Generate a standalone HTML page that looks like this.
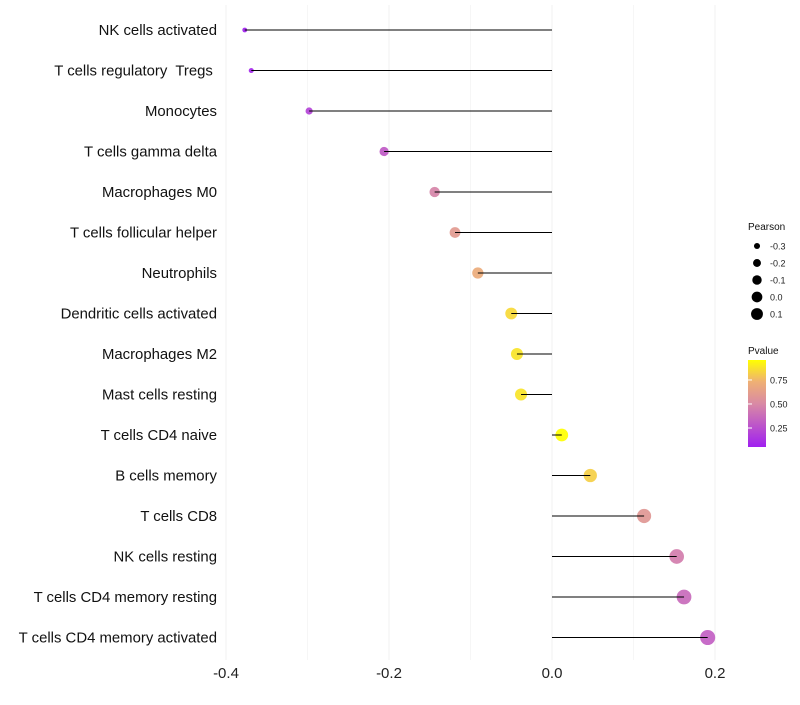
<!DOCTYPE html>
<html><head><meta charset="utf-8"><style>
body{margin:0;background:#fff;font-family:"Liberation Sans",sans-serif}
</style></head><body>
<svg id="c" width="800" height="700" xmlns="http://www.w3.org/2000/svg">
<defs><linearGradient id="pg" x1="0" y1="1" x2="0" y2="0">
<stop offset="0" stop-color="#A020F0"/><stop offset="0.5" stop-color="#D98AA4"/><stop offset="0.75" stop-color="#EFB074"/><stop offset="1" stop-color="#FFFF00"/></linearGradient></defs>
</svg>
<script>
const categories=["NK cells activated","T cells regulatory  Tregs ","Monocytes","T cells gamma delta","Macrophages M0","T cells follicular helper","Neutrophils","Dendritic cells activated","Macrophages M2","Mast cells resting","T cells CD4 naive","B cells memory","T cells CD8","NK cells resting","T cells CD4 memory resting","T cells CD4 memory activated"];
const pearson=[-0.377,-0.369,-0.298,-0.206,-0.144,-0.119,-0.091,-0.050,-0.043,-0.038,0.012,0.047,0.113,0.153,0.162,0.191];
const pvalue=[0.06,0.08,0.2,0.3,0.48,0.6,0.7,0.85,0.88,0.88,0.96,0.82,0.58,0.45,0.37,0.32];
const xTicks=[-0.4,-0.2,0.0,0.2];
const xTickLabels=["-0.4","-0.2","0.0","0.2"];
const minorTicks=[-0.3,-0.1,0.1];
const sizeLegend=[-0.3,-0.2,-0.1,0.0,0.1];
const sizeLegendLabels=["-0.3","-0.2","-0.1","0.0","0.1"];
const colorTicks=[0.25,0.5,0.75];
const colorTickLabels=["0.25","0.50","0.75"];
const svg=document.getElementById('c');const NS="http://www.w3.org/2000/svg";
const X=v=>552+v*815;
const Y=i=>30+i*40.5;
const R=v=>Math.sqrt(6+90*(v+0.375));
const stops=[[0,[160,32,240]],[0.5,[217,138,164]],[0.75,[239,176,116]],[1,[255,255,0]]];
function col(p){const t=Math.max(0,Math.min(1,(p-0.052)/(0.958-0.052)));let k=0;while(k<stops.length-2&&t>stops[k+1][0])k++;const [t0,a]=stops[k],[t1,b]=stops[k+1];const u=(t-t0)/(t1-t0);return `rgb(${a.map((x,j)=>Math.round(x+(b[j]-x)*u)).join(',')})`}
function mk(tag,at,txt){const e=document.createElementNS(NS,tag);for(const k in at)e.setAttribute(k,at[k]);if(txt!=null)e.textContent=txt;svg.appendChild(e);return e}
[...xTicks,...minorTicks].forEach(v=>{const e=mk('line',{x1:X(v),x2:X(v),y1:5,y2:660,stroke:'#f0f0f0','stroke-width':xTicks.includes(v)?1:0.6});

});
xTicks.forEach((v,i)=>{const e=mk('text',{x:X(v),y:678,'text-anchor':'middle','font-size':15,fill:'#222'},xTickLabels[i]);

});
categories.forEach((c,i)=>{const y=Y(i);
const t=mk('text',{x:217,y:y+5,'text-anchor':'end','font-size':14.9,fill:'#111',style:'white-space:pre'},c);


const p=mk('circle',{cx:X(pearson[i]),cy:y,r:R(pearson[i]),fill:col(pvalue[i]),'fill-opacity':0.92});


const l=mk('line',{x1:X(0),x2:X(pearson[i]),y1:y,y2:y,stroke:'#000','stroke-width':1});

});
let e=mk('text',{x:748,y:230,'font-size':10,fill:'#111'},'Pearson');


sizeLegend.forEach((v,i)=>{const y=246+i*17;
const c=mk('circle',{cx:757,cy:y,r:R(v)*0.85,fill:'#000'});


const t=mk('text',{x:770,y:y+3.5,'font-size':9,fill:'#222'},sizeLegendLabels[i]);

});
e=mk('text',{x:748,y:354,'font-size':10,fill:'#111'},'Pvalue');


e=mk('rect',{x:748,y:360,width:18,height:87,fill:'url(#pg)'});


const CY=p=>360+(0.958-p)/(0.958-0.052)*87;
colorTicks.forEach((v,i)=>{const t=mk('text',{x:770,y:CY(v)+3.5,'font-size':9,fill:'#222'},colorTickLabels[i]);


const l=mk('line',{x1:748,x2:752,y1:CY(v),y2:CY(v),stroke:'#fff'});

});
</script>
</body></html>
